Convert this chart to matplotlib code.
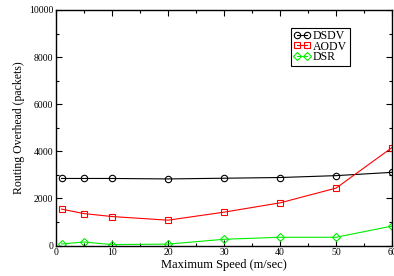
import matplotlib
matplotlib.use("Agg")
from matplotlib import pyplot as plt
from matplotlib.ticker import MultipleLocator

# max speed (m/sec)
speeds = [1, 5, 10, 20, 30, 40, 50, 60]

# routing overhead (packets)
dsdv = [2850, 2850, 2850, 2830, 2860, 2890, 2970, 3110]
aodv = [1550, 1360, 1235, 1080, 1420, 1815, 2440, 4160]
dsr = [70, 155, 45, 65, 270, 355, 355, 830]

plt.rcParams['font.family'] = ['Liberation Serif', 'DejaVu Serif']

fig = plt.figure(figsize=(3.94, 2.76), dpi=100)
axes = fig.add_axes([0.142, 0.110, 0.853, 0.854])

style = dict(linewidth=0.8, markersize=4.6, markerfacecolor='none', markeredgewidth=0.8)
axes.plot(speeds, dsdv, marker='o', color='black', label='DSDV', **style)
axes.plot(speeds, aodv, marker='s', color='#ff0000', label='AODV', **style)
axes.plot(speeds, dsr, marker='D', color='#00ee00', label='DSR',
          linewidth=0.8, markersize=3.6, markerfacecolor='none', markeredgewidth=0.8)

axes.set_xlim(0, 60)
axes.set_ylim(0, 10000)
axes.xaxis.set_major_locator(MultipleLocator(10))
axes.xaxis.set_minor_locator(MultipleLocator(5))
axes.yaxis.set_major_locator(MultipleLocator(2000))
axes.yaxis.set_minor_locator(MultipleLocator(1000))
axes.tick_params(which='both', direction='in', top=True, right=True, labelsize=7, width=0.8, pad=2)
axes.tick_params(which='major', length=4)
axes.tick_params(which='minor', length=2)
for spine in axes.spines.values():
    spine.set_linewidth(1.0)

axes.set_xlabel('Maximum Speed (m/sec)', fontsize=9, labelpad=1)
axes.set_ylabel('Routing Overhead (packets)', fontsize=8.5, labelpad=3)

leg = axes.legend(loc='upper left', bbox_to_anchor=(0.70, 0.925), fontsize=8.5, numpoints=2,
                  handlelength=1.45, handletextpad=0.2, borderpad=0.2, labelspacing=-0.12,
                  borderaxespad=0, fancybox=False, framealpha=1, edgecolor='black')
leg.get_frame().set_linewidth(0.8)

plt.savefig('out.png', dpi=100)
